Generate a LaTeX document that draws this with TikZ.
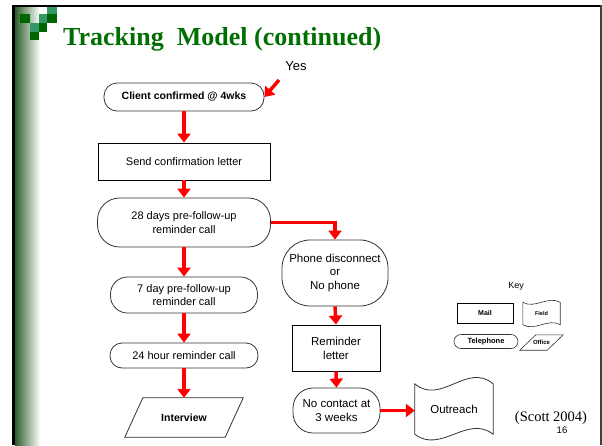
\documentclass[tikz,border=0pt]{standalone}
\usepackage{fontspec}
\setmainfont{Liberation Sans}
\newfontfamily\titlefont{Liberation Serif}
\usetikzlibrary{arrows.meta}
\definecolor{titlegreen}{RGB}{0,110,0}
\definecolor{sqdark}{RGB}{0,102,0}
\definecolor{sqlight}{RGB}{51,153,102}
\definecolor{bargreen}{RGB}{45,95,45}
\newcommand\myfs[2]{\fontsize{#1}{#2}\selectfont}
\tikzset{
  base/.style={inner sep=0pt, align=center, text=black, font=\myfs{11}{13.5}},
  rectbox/.style={base, draw=black, line width=0.9pt, rectangle},
  pill/.style={base, draw=black!80, line width=0.8pt, rounded corners=#1},
  outline/.style={draw=black!80, line width=0.8pt},
  flow/.style={draw=red, line width=3.5pt, -{Triangle[width=13pt,length=9pt]}},
  keytext/.style={font=\bfseries\myfs{6}{7}}
}
\begin{document}
\begin{tikzpicture}[x=1pt,y=-1pt]
\useasboundingbox (0,0) rectangle (602,445);
% frame
\shade[left color=bargreen, right color=white] (15,7) rectangle (40,445);
\fill[black] (12,4.5) rectangle (15,445);
\fill[black] (12,4.5) rectangle (602,7);
\fill[black!75] (599.5,4.5) rectangle (602,445);
% logo
\fill[sqdark] (20,14) rectangle (30,23);
\fill[sqlight] (30,23) rectangle (39,32);
\fill[sqdark] (30,32) rectangle (39,40);
\fill[sqlight] (39,14) rectangle (47,23);
\fill[sqdark] (39,23) rectangle (47,32);
\fill[sqlight] (47,7) rectangle (57,14);
\fill[sqdark] (47,14) rectangle (57,23);
% title
\node[anchor=base west, inner sep=0pt, text=titlegreen, font=\titlefont\bfseries\myfs{26}{30}] (title) at (63,45) {Tracking\ \ Model (continued)};
% main column
\node[pill=13, font=\bfseries\myfs{10.5}{12}, minimum width=160, minimum height=28] (client) at (184,97) {Client confirmed @ 4wks};
\node[rectbox, minimum width=172, minimum height=37] (send) at (184,161.5) {Send confirmation letter};
\node[pill=22, minimum width=173, minimum height=49] (days) at (184,222.5) {28 days pre-follow-up\\reminder call};
\node[pill=17, minimum width=147, minimum height=36] (week) at (184,295) {7 day pre-follow-up\\reminder call};
\node[pill=12, minimum width=148, minimum height=25] (day) at (184,355.5) {24 hour reminder call};
\node[base, font=\bfseries\myfs{10.5}{12}, minimum width=118, minimum height=39] (interview) at (184,417.5) {Interview};
\draw[outline] ([xshift=18pt]interview.north west) -- (interview.north east) -- ([xshift=-18pt]interview.south east) -- (interview.south west) -- cycle;
% right column
\node[pill=28, font=\myfs{11.5}{13.5}, minimum width=106, minimum height=66] (phone) at (335,273) {Phone disconnect\\or\\No phone};
\node[rectbox, font=\myfs{11.5}{14}, minimum width=88, minimum height=46] (letter) at (336,348) {Reminder\\letter};
\node[pill=20, font=\myfs{11.5}{13.5}, minimum width=87, minimum height=45] (nocontact) at (336.5,410.5) {No contact at\\3 weeks};
\node[base, font=\myfs{11.5}{13.5}, minimum width=78, minimum height=50] (outreach) at (454,409) {Outreach};
\draw[outline] (outreach.north west) .. controls +(26,22) and +(-26,-22) .. (outreach.north east)
  -- (outreach.south east) .. controls +(-26,-20) and +(26,20) .. (outreach.south west) -- cycle;
% yes
\node[base, font=\myfs{13}{15}] (yes) at (296,66) {Yes};
\coordinate (yestail) at (279,80);
% connectors
\draw[flow] (yestail) -- (client.east);
\draw[flow] (client.south) -- (send.north);
\draw[flow] (send.south) -- (days.north);
\draw[flow] (days.south) -- (week.north);
\draw[flow] (week.south) -- (day.north);
\draw[flow] (day.south) -- (interview.north);
\draw[flow] (days.east) -| (phone.north);
\draw[flow] (phone.south) -- (letter.north);
\draw[flow] (letter.south) -- (nocontact.north);
\draw[flow] (nocontact.east) -- (nocontact.east -| outreach.west);
% key
\node[base, font=\myfs{9}{11}] (key) at (516,286) {Key};
\node[rectbox, line width=0.7pt, keytext, font=\bfseries\myfs{7}{8}, minimum width=56, minimum height=20] (mail) at (485,313) {Mail};
\node[base, keytext, font=\bfseries\myfs{5.5}{7}, minimum width=37, minimum height=22] (field) at (541.5,313.5) {Field};
\draw[outline, line width=0.6pt] (field.north west) .. controls +(12,7) and +(-12,-7) .. (field.north east)
  -- (field.south east) .. controls +(-12,-7) and +(12,7) .. (field.south west) -- cycle;
\node[pill=7, line width=0.6pt, keytext, font=\bfseries\myfs{7.5}{8}, minimum width=64, minimum height=14] (phonekey) at (486,341.5) {Telephone};
\node[base, keytext, font=\bfseries\myfs{6}{7}, minimum width=43, minimum height=15] (office) at (541.5,342.5) {Office};
\draw[outline, line width=0.6pt] ([xshift=16pt]office.north west) -- (office.north east) -- ([xshift=-16pt]office.south east) -- (office.south west) -- cycle;
% citation
\node[base, font=\titlefont\myfs{14.5}{16}] (scott) at (551,418) {(Scott 2004)};
\node[base, font=\myfs{9.5}{11}] (page) at (562,430) {16};
\end{tikzpicture}
\end{document}
